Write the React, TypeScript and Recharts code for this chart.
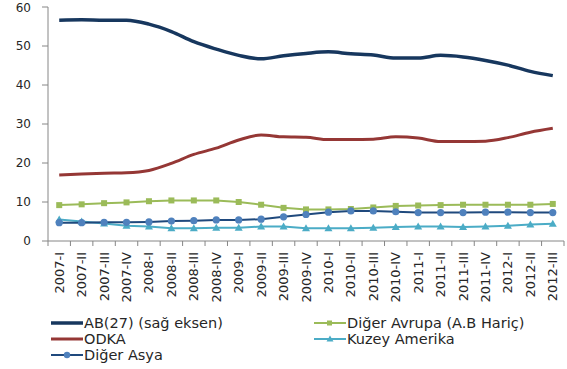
import { LineChart, Line, XAxis, YAxis } from "recharts";

// Dış ticaret payları (%), çeyreklik
const quarters = [
  "2007-I", "2007-II", "2007-III", "2007-IV",
  "2008-I", "2008-II", "2008-III", "2008-IV",
  "2009-I", "2009-II", "2009-III", "2009-IV",
  "2010-I", "2010-II", "2010-III", "2010-IV",
  "2011-I", "2011-II", "2011-III", "2011-IV",
  "2012-I", "2012-II", "2012-III",
];

const ab27 = [
  56.6, 56.7, 56.6, 56.6, 55.6, 53.7, 51.1, 49.2, 47.6, 46.7, 47.5, 48.1,
  48.5, 48.0, 47.7, 46.9, 46.9, 47.6, 47.2, 46.3, 45.1, 43.5, 42.4,
];
const odka = [
  16.9, 17.2, 17.4, 17.5, 18.1, 19.9, 22.2, 23.8, 25.9, 27.2, 26.7, 26.6,
  26.0, 26.0, 26.1, 26.7, 26.4, 25.5, 25.5, 25.6, 26.5, 27.9, 28.9,
];
const digerAvrupa = [
  9.2, 9.4, 9.7, 9.9, 10.2, 10.4, 10.4, 10.4, 10.0, 9.3, 8.5, 8.1,
  8.1, 8.2, 8.6, 9.0, 9.1, 9.2, 9.3, 9.3, 9.3, 9.3, 9.5,
];
const kuzeyAmerika = [
  5.5, 5.0, 4.5, 3.9, 3.7, 3.3, 3.3, 3.4, 3.4, 3.7, 3.7, 3.3,
  3.3, 3.3, 3.4, 3.6, 3.7, 3.7, 3.6, 3.7, 3.9, 4.2, 4.4,
];
const digerAsya = [
  4.7, 4.7, 4.8, 4.8, 4.9, 5.1, 5.2, 5.4, 5.4, 5.6, 6.2, 6.8,
  7.4, 7.7, 7.7, 7.5, 7.3, 7.3, 7.3, 7.4, 7.4, 7.3, 7.3,
];

const yTicks = [0, 10, 20, 30, 40, 50, 60];

const data = quarters.map((q, i) => ({
  q,
  ab27: ab27[i],
  odka: odka[i],
  digerAvrupa: digerAvrupa[i],
  kuzeyAmerika: kuzeyAmerika[i],
  digerAsya: digerAsya[i],
}));

const W = 567;
const H = 369;
const MARGIN = { top: 7, right: 3, left: 0, bottom: 63 };
const Y_AXIS_W = 48;
const X_AXIS_H = 65;
const PLOT_W = W - MARGIN.left - MARGIN.right - Y_AXIS_W;
const HALF_BAND = PLOT_W / quarters.length / 2;

const FONT = "'DejaVu Sans', sans-serif";
const AXIS = "#868686";
const TEXT = "#262626";

const C_AB = "#17375E";
const C_ODKA = "#953735";
const C_AVRUPA = "#9BBB59";
const C_KUZEY = "#4BACC6";
const C_ASYA_LINE = "#1F497D";
const C_ASYA_DOT = "#4F81BD";

// Excel style: tick marks on category boundaries, labels turned upright
function QuarterTick(props: any) {
  const { x, y, payload, index } = props;
  const axisY = y - 7;
  const last = index === quarters.length - 1;
  return (
    <g>
      <line x1={x - HALF_BAND} x2={x - HALF_BAND} y1={axisY} y2={axisY + 5} stroke={AXIS} />
      {last && (
        <line x1={x + HALF_BAND} x2={x + HALF_BAND} y1={axisY} y2={axisY + 5} stroke={AXIS} />
      )}
      <text
        transform={`translate(${x + 4.5},${y + 4}) rotate(-90)`}
        textAnchor="end"
        fontFamily={FONT}
        fontSize={13}
        fill={TEXT}
      >
        {payload.value}
      </text>
    </g>
  );
}

function SquareDot(props: any) {
  const { cx, cy } = props;
  if (cx == null || cy == null) return null;
  return <rect x={cx - 3} y={cy - 3} width={6} height={6} fill={C_AVRUPA} />;
}

function TriangleDot(props: any) {
  const { cx, cy } = props;
  if (cx == null || cy == null) return null;
  return (
    <path d={`M${cx},${cy - 4}L${cx + 4},${cy + 3}L${cx - 4},${cy + 3}Z`} fill={C_KUZEY} />
  );
}

function CircleDot(props: any) {
  const { cx, cy } = props;
  if (cx == null || cy == null) return null;
  return <circle cx={cx} cy={cy} r={3.6} fill={C_ASYA_DOT} />;
}

type LegendItem = {
  name: string;
  color: string;
  width: number;
  marker?: "square" | "triangle" | "circle";
  markerColor?: string;
  col: number;
  row: number;
};

const legendItems: LegendItem[] = [
  { name: "AB(27) (sağ eksen)", color: C_AB, width: 3.5, col: 0, row: 0 },
  { name: "Diğer Avrupa (A.B Hariç)", color: C_AVRUPA, width: 2, marker: "square", col: 1, row: 0 },
  { name: "ODKA", color: C_ODKA, width: 3, col: 0, row: 1 },
  { name: "Kuzey Amerika", color: C_KUZEY, width: 2, marker: "triangle", col: 1, row: 1 },
  { name: "Diğer Asya", color: C_ASYA_LINE, width: 2, marker: "circle", markerColor: C_ASYA_DOT, col: 0, row: 2 },
];

const LEGEND_COL_X = [51, 314];
const LEGEND_ROW_Y = [323, 339, 355];

function LegendSwatch({ item }: { item: LegendItem }) {
  const mc = item.markerColor ?? item.color;
  return (
    <svg width={32} height={14} style={{ display: "block" }}>
      <line x1={0} x2={32} y1={7} y2={7} stroke={item.color} strokeWidth={item.width} />
      {item.marker === "square" && <rect x={13} y={4.5} width={5} height={5} fill={mc} />}
      {item.marker === "triangle" && <path d="M16,3.5L19.5,9.5L12.5,9.5Z" fill={mc} />}
      {item.marker === "circle" && <circle cx={16} cy={7} r={3.2} fill={mc} />}
    </svg>
  );
}

function ChartLegend() {
  return (
    <>
      {legendItems.map((item) => (
        <div
          key={item.name}
          style={{
            position: "absolute",
            left: LEGEND_COL_X[item.col],
            top: LEGEND_ROW_Y[item.row] - 7,
            height: 14,
            display: "flex",
            alignItems: "center",
            gap: 1,
            fontFamily: FONT,
            fontSize: 14.5,
            color: TEXT,
            whiteSpace: "nowrap",
            lineHeight: "14px",
          }}
        >
          <LegendSwatch item={item} />
          <span>{item.name}</span>
        </div>
      ))}
    </>
  );
}

export default function App() {
  return (
    <div
      style={{
        position: "absolute",
        left: 0,
        top: 0,
        width: W,
        height: H,
        background: "#fff",
        overflow: "hidden",
      }}
    >
      <LineChart width={W} height={H} data={data} margin={MARGIN}>
        <XAxis
          dataKey="q"
          interval={0}
          height={X_AXIS_H}
          padding={{ left: HALF_BAND, right: HALF_BAND }}
          axisLine={{ stroke: AXIS }}
          tickLine={false}
          tickSize={5}
          tickMargin={2}
          tick={<QuarterTick />}
        />
        <XAxis
          xAxisId="frame"
          dataKey="q"
          orientation="top"
          height={0}
          axisLine={{ stroke: AXIS }}
          tick={false}
          tickLine={false}
        />
        <YAxis
          domain={[0, 60]}
          ticks={yTicks}
          width={Y_AXIS_W}
          axisLine={{ stroke: AXIS }}
          tickLine={{ stroke: AXIS }}
          tickSize={6}
          tickMargin={11}
          tick={{ fontFamily: FONT, fontSize: 12, fill: TEXT }}
          allowDataOverflow
        />
        <YAxis
          yAxisId="frame"
          orientation="right"
          domain={[0, 60]}
          width={0}
          axisLine={{ stroke: AXIS }}
          tick={false}
          tickLine={false}
        />
        <Line
          type="monotone"
          dataKey="ab27"
          name="AB(27) (sağ eksen)"
          stroke={C_AB}
          strokeWidth={3.5}
          dot={false}
          isAnimationActive={false}
        />
        <Line
          type="monotone"
          dataKey="odka"
          name="ODKA"
          stroke={C_ODKA}
          strokeWidth={3}
          dot={false}
          isAnimationActive={false}
        />
        <Line
          type="linear"
          dataKey="digerAvrupa"
          name="Diğer Avrupa (A.B Hariç)"
          stroke={C_AVRUPA}
          strokeWidth={2}
          dot={<SquareDot />}
          isAnimationActive={false}
        />
        <Line
          type="linear"
          dataKey="kuzeyAmerika"
          name="Kuzey Amerika"
          stroke={C_KUZEY}
          strokeWidth={2}
          dot={<TriangleDot />}
          isAnimationActive={false}
        />
        <Line
          type="linear"
          dataKey="digerAsya"
          name="Diğer Asya"
          stroke={C_ASYA_LINE}
          strokeWidth={2}
          dot={<CircleDot />}
          isAnimationActive={false}
        />
      </LineChart>
      <ChartLegend />
    </div>
  );
}
